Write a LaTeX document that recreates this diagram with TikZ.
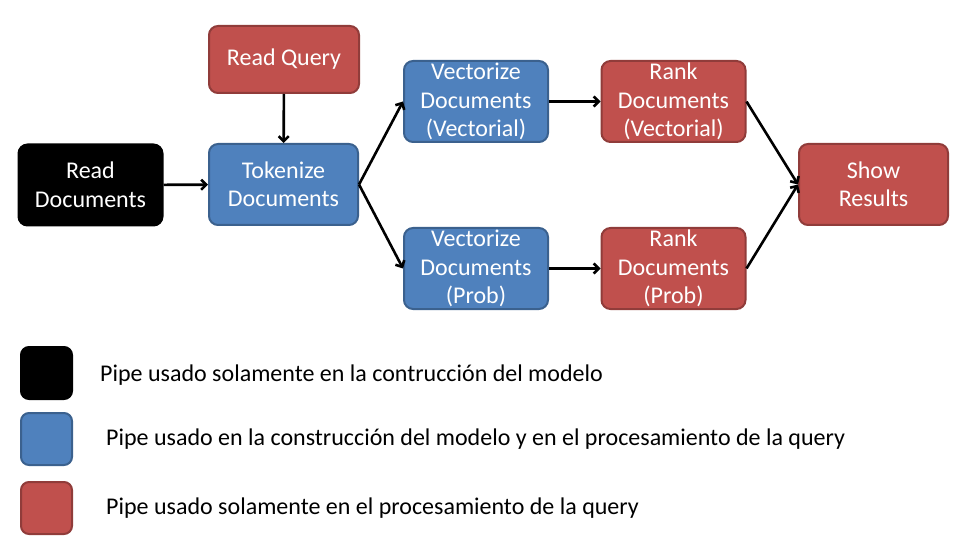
\documentclass[tikz,border=0pt]{standalone}
\usepackage{fontspec}
\setmainfont{Carlito}
\usetikzlibrary{arrows.meta,positioning}

\begin{document}
\begin{tikzpicture}[
        x=1pt, y=-1pt,
        font=\fontsize{24}{28.5}\selectfont,
        % Block styles
        stage/.style={
            rectangle,
            draw=#1!75!black,
            line width=2pt,
            rounded corners=9pt,
            minimum height=81pt,
            minimum width=144pt,
            inner sep=2pt,
            align=center,
            text=white,
            fill=#1
        },
        key/.style={
            rectangle,
            draw=#1!75!black,
            line width=2pt,
            rounded corners=8pt,
            minimum height=52pt,
            minimum width=51pt,
            fill=#1
        },
        keytext/.style={anchor=west, inner sep=0pt},
        arrow/.style={-{Straight Barb[length=5pt,width=10pt]}, line width=2.6pt}
    ]
    \definecolor{qblue}{HTML}{4F81BD}
    \definecolor{qred}{HTML}{C0504D}
    \definecolor{qblack}{HTML}{000000}
    \useasboundingbox (0,0) rectangle (959,548);

    % Pipeline
    \node[stage=qred, minimum width=150pt, minimum height=67pt] (query) at (284, 59.5) {Read Query};
    \node[stage=qblack, draw=black] (readdocs) at (90.5, 185) {Read\\Documents};
    \node[stage=qblue, minimum width=149pt] (tokenize) at (283.5, 184.5) {Tokenize\\Documents};
    \node[stage=qblue] (vecvect) at (476, 101.5) {Vectorize\\Documents\\(Vectorial)};
    \node[stage=qblue] (vecprob) at (476, 268.5) {Vectorize\\Documents\\(Prob)};
    \node[stage=qred] (rankvect) at (673.5, 101.5) {Rank\\Documents\\(Vectorial)};
    \node[stage=qred] (rankprob) at (673.5, 268.5) {Rank\\Documents\\(Prob)};
    \node[stage=qred, minimum width=149pt] (results) at (873.5, 184.5) {Show\\Results};

    % Legend
    \node[key=qblack, draw=black] (keyblack) at (46.5, 373) {};
    \node[key=qblue] (keyblue) at (46.5, 439) {};
    \node[key=qred] (keyred) at (46.5, 508) {};
    \node[keytext] (txtblack) at (100, 375) {Pipe usado solamente en la contrucción del modelo};
    \node[keytext] (txtblue) at (106, 439) {Pipe usado en la construcción del modelo y en el procesamiento de la query};
    \node[keytext] (txtred) at (106, 508) {Pipe usado solamente en el procesamiento de la query};

    % Connections
    \draw[arrow] (query) -- (tokenize);
    \draw[arrow] (readdocs) -- (tokenize);
    \draw[arrow] (tokenize.east) -- (vecvect.west);
    \draw[arrow] (tokenize.east) -- (vecprob.west);
    \draw[arrow] (vecvect) -- (rankvect);
    \draw[arrow] (vecprob) -- (rankprob);
    \draw[arrow] (rankvect.east) -- (results.west);
    \draw[arrow] (rankprob.east) -- (results.west);

\end{tikzpicture}
\end{document}
